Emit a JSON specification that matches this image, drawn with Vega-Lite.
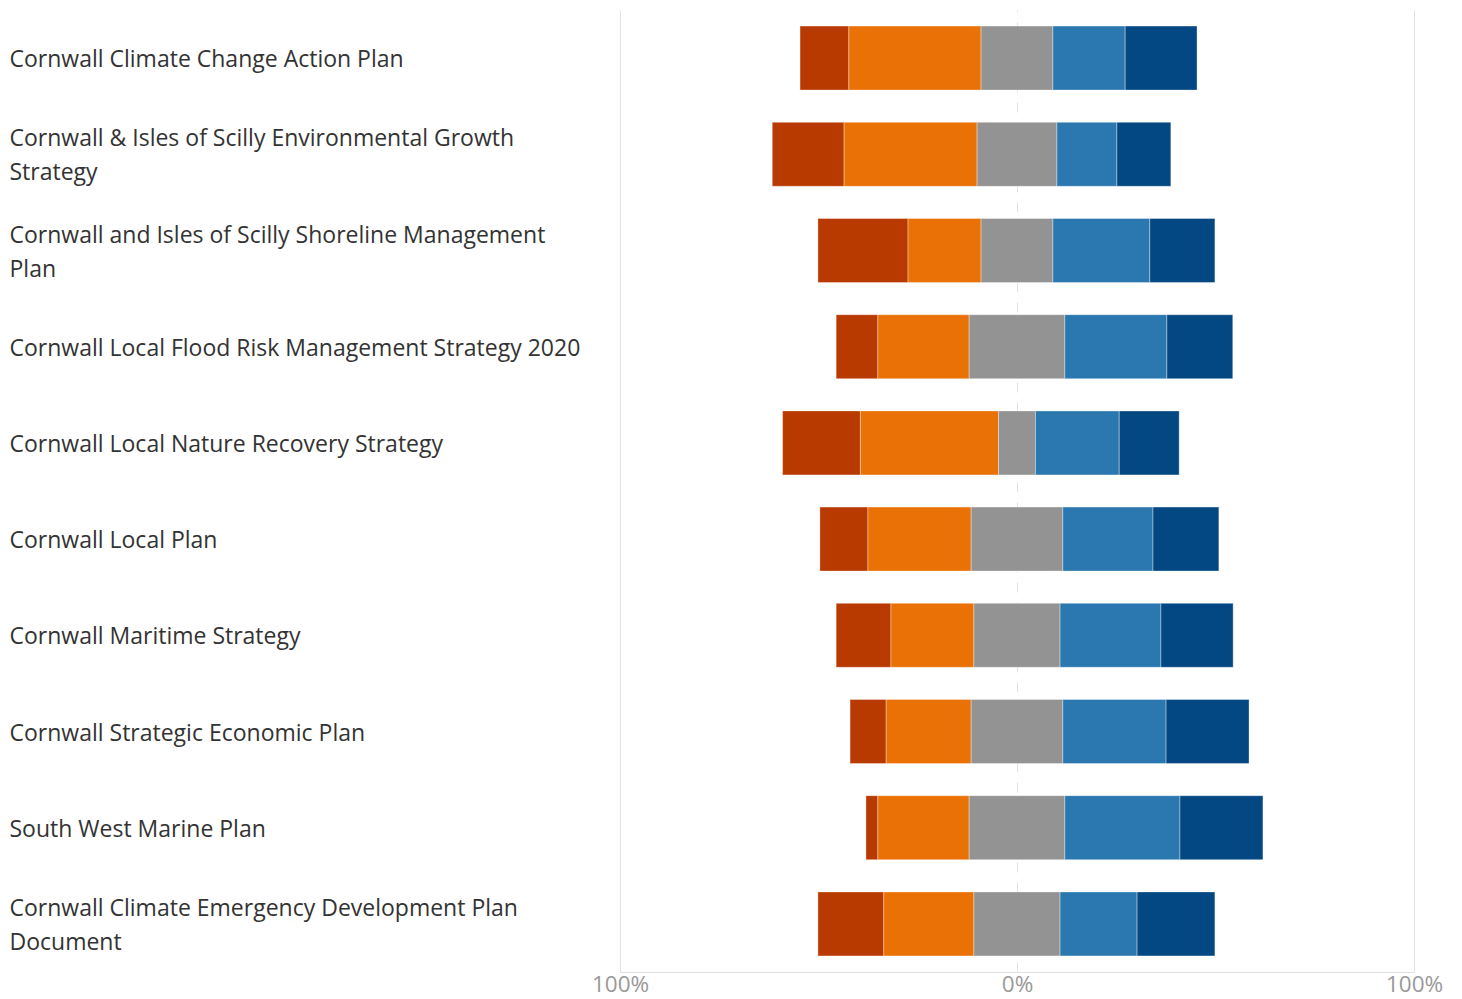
{
  "$schema": "https://vega.github.io/schema/vega-lite/v6.json",
  "width": 794,
  "height": 962,
  "autosize": "none",
  "padding": {"left": 620, "top": 10, "right": 48, "bottom": 27},
  "background": "white",
  "config": {"view": {"stroke": null}, "font": "Open Sans"},
  "data": {"values": [
    {"plan": "Cornwall Climate Change Action Plan", "response": "Strongly disagree", "value": 12.3},
    {"plan": "Cornwall Climate Change Action Plan", "response": "Disagree", "value": 33.3},
    {"plan": "Cornwall Climate Change Action Plan", "response": "Neutral", "value": 18.1},
    {"plan": "Cornwall Climate Change Action Plan", "response": "Agree", "value": 18.2},
    {"plan": "Cornwall Climate Change Action Plan", "response": "Strongly agree", "value": 18.1},
    {"plan": "Cornwall & Isles of Scilly Environmental Growth Strategy", "response": "Strongly disagree", "value": 18.1},
    {"plan": "Cornwall & Isles of Scilly Environmental Growth Strategy", "response": "Disagree", "value": 33.5},
    {"plan": "Cornwall & Isles of Scilly Environmental Growth Strategy", "response": "Neutral", "value": 20.1},
    {"plan": "Cornwall & Isles of Scilly Environmental Growth Strategy", "response": "Agree", "value": 15.1},
    {"plan": "Cornwall & Isles of Scilly Environmental Growth Strategy", "response": "Strongly agree", "value": 13.6},
    {"plan": "Cornwall and Isles of Scilly Shoreline Management Plan", "response": "Strongly disagree", "value": 22.7},
    {"plan": "Cornwall and Isles of Scilly Shoreline Management Plan", "response": "Disagree", "value": 18.4},
    {"plan": "Cornwall and Isles of Scilly Shoreline Management Plan", "response": "Neutral", "value": 18.1},
    {"plan": "Cornwall and Isles of Scilly Shoreline Management Plan", "response": "Agree", "value": 24.4},
    {"plan": "Cornwall and Isles of Scilly Shoreline Management Plan", "response": "Strongly agree", "value": 16.4},
    {"plan": "Cornwall Local Flood Risk Management Strategy 2020", "response": "Strongly disagree", "value": 10.5},
    {"plan": "Cornwall Local Flood Risk Management Strategy 2020", "response": "Disagree", "value": 23.0},
    {"plan": "Cornwall Local Flood Risk Management Strategy 2020", "response": "Neutral", "value": 24.1},
    {"plan": "Cornwall Local Flood Risk Management Strategy 2020", "response": "Agree", "value": 25.7},
    {"plan": "Cornwall Local Flood Risk Management Strategy 2020", "response": "Strongly agree", "value": 16.6},
    {"plan": "Cornwall Local Nature Recovery Strategy", "response": "Strongly disagree", "value": 19.6},
    {"plan": "Cornwall Local Nature Recovery Strategy", "response": "Disagree", "value": 34.8},
    {"plan": "Cornwall Local Nature Recovery Strategy", "response": "Neutral", "value": 9.3},
    {"plan": "Cornwall Local Nature Recovery Strategy", "response": "Agree", "value": 21.1},
    {"plan": "Cornwall Local Nature Recovery Strategy", "response": "Strongly agree", "value": 15.1},
    {"plan": "Cornwall Local Plan", "response": "Strongly disagree", "value": 12.1},
    {"plan": "Cornwall Local Plan", "response": "Disagree", "value": 26.0},
    {"plan": "Cornwall Local Plan", "response": "Neutral", "value": 23.1},
    {"plan": "Cornwall Local Plan", "response": "Agree", "value": 22.7},
    {"plan": "Cornwall Local Plan", "response": "Strongly agree", "value": 16.6},
    {"plan": "Cornwall Maritime Strategy", "response": "Strongly disagree", "value": 13.8},
    {"plan": "Cornwall Maritime Strategy", "response": "Disagree", "value": 20.9},
    {"plan": "Cornwall Maritime Strategy", "response": "Neutral", "value": 21.7},
    {"plan": "Cornwall Maritime Strategy", "response": "Agree", "value": 25.4},
    {"plan": "Cornwall Maritime Strategy", "response": "Strongly agree", "value": 18.2},
    {"plan": "Cornwall Strategic Economic Plan", "response": "Strongly disagree", "value": 9.1},
    {"plan": "Cornwall Strategic Economic Plan", "response": "Disagree", "value": 21.4},
    {"plan": "Cornwall Strategic Economic Plan", "response": "Neutral", "value": 23.1},
    {"plan": "Cornwall Strategic Economic Plan", "response": "Agree", "value": 26.0},
    {"plan": "Cornwall Strategic Economic Plan", "response": "Strongly agree", "value": 20.9},
    {"plan": "South West Marine Plan", "response": "Strongly disagree", "value": 3.0},
    {"plan": "South West Marine Plan", "response": "Disagree", "value": 23.0},
    {"plan": "South West Marine Plan", "response": "Neutral", "value": 24.1},
    {"plan": "South West Marine Plan", "response": "Agree", "value": 29.0},
    {"plan": "South West Marine Plan", "response": "Strongly agree", "value": 20.9},
    {"plan": "Cornwall Climate Emergency Development Plan Document", "response": "Strongly disagree", "value": 16.6},
    {"plan": "Cornwall Climate Emergency Development Plan Document", "response": "Disagree", "value": 22.7},
    {"plan": "Cornwall Climate Emergency Development Plan Document", "response": "Neutral", "value": 21.7},
    {"plan": "Cornwall Climate Emergency Development Plan Document", "response": "Agree", "value": 19.4},
    {"plan": "Cornwall Climate Emergency Development Plan Document", "response": "Strongly agree", "value": 19.6}
  ]},
  "transform": [
    {"calculate": "indexof(['Strongly disagree','Disagree','Neutral','Agree','Strongly agree'], datum.response)", "as": "rank"},
    {"calculate": "datum.rank < 2 ? datum.value : (datum.rank == 2 ? datum.value / 2 : 0)", "as": "neg"},
    {"joinaggregate": [{"op": "sum", "field": "neg", "as": "offset"}], "groupby": ["plan"]},
    {"window": [{"op": "sum", "field": "value", "as": "cum"}], "sort": [{"field": "rank", "order": "ascending"}], "groupby": ["plan"], "frame": [null, 0]},
    {"calculate": "datum.cum - datum.value - datum.offset", "as": "start"},
    {"calculate": "datum.cum - datum.offset", "as": "end"}
  ],
  "mark": {"type": "bar", "stroke": "#ffffff", "strokeWidth": 1, "strokeOpacity": 0.35},
  "encoding": {
    "y": {
      "field": "plan", "type": "nominal", "title": null,
      "sort": ["Cornwall Climate Change Action Plan", "Cornwall & Isles of Scilly Environmental Growth Strategy", "Cornwall and Isles of Scilly Shoreline Management Plan", "Cornwall Local Flood Risk Management Strategy 2020", "Cornwall Local Nature Recovery Strategy", "Cornwall Local Plan", "Cornwall Maritime Strategy", "Cornwall Strategic Economic Plan", "South West Marine Plan", "Cornwall Climate Emergency Development Plan Document"],
      "scale": {"paddingInner": 0.335, "paddingOuter": 0.1675},
      "axis": {
        "domain": false, "ticks": false, "grid": false,
        "labelAlign": "left", "labelBaseline": "middle", "labelPadding": 611, "labelLimit": 800,
        "labelFontSize": 23, "labelColor": "#333333", "labelLineHeight": 34, "labelFont": "Open Sans",
        "labelOffset": {"condition": {"test": "indexof(['Cornwall & Isles of Scilly Environmental Growth Strategy', 'Cornwall and Isles of Scilly Shoreline Management Plan', 'Cornwall Climate Emergency Development Plan Document'], datum.value) >= 0", "value": -15}, "value": 2},
        "labelExpr": "datum.label == 'Cornwall & Isles of Scilly Environmental Growth Strategy' ? ['Cornwall & Isles of Scilly Environmental Growth', 'Strategy'] : (datum.label == 'Cornwall and Isles of Scilly Shoreline Management Plan' ? ['Cornwall and Isles of Scilly Shoreline Management', 'Plan'] : (datum.label == 'Cornwall Climate Emergency Development Plan Document' ? ['Cornwall Climate Emergency Development Plan', 'Document'] : datum.label))"
      }
    },
    "x": {
      "field": "start", "type": "quantitative", "title": null,
      "scale": {"domain": [-100, 100], "nice": false},
      "axis": {
        "values": [-100, 0, 100], "ticks": false, "labelFlush": false, "labelOverlap": false,
        "labelExpr": "abs(datum.value) + '%'", "labelFontSize": 22.5, "labelColor": "#999999", "labelPadding": 1, "labelFont": "Open Sans",
        "domainColor": "#e0e0e0", "grid": true,
        "gridColor": "#e3e3e3",
        "gridDash": {"condition": {"test": "datum.value === 0", "value": [10, 10]}, "value": []}
      }
    },
    "x2": {"field": "end"},
    "color": {
      "field": "response", "type": "nominal", "legend": null,
      "scale": {"domain": ["Strongly disagree", "Disagree", "Neutral", "Agree", "Strongly agree"], "range": ["#B83A01", "#EA7106", "#939393", "#2B78B0", "#034882"]}
    },
    "order": {"field": "rank", "type": "quantitative"}
  }
}
